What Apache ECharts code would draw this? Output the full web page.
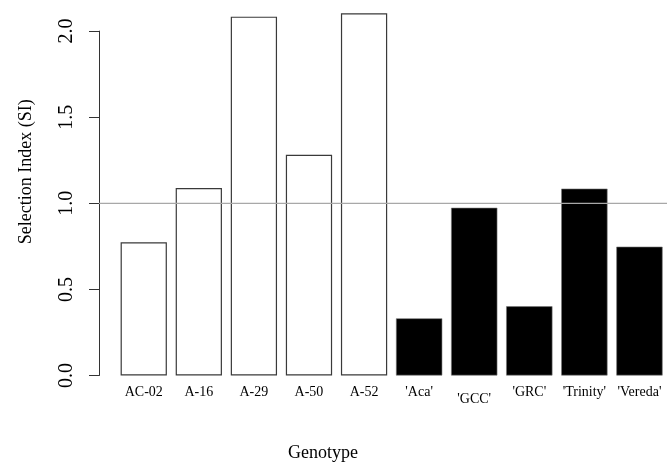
<!DOCTYPE html>
<html>
<head>
<meta charset="utf-8">
<script src="https://cdn.jsdelivr.net/npm/echarts@6/dist/echarts.min.js"></script>
<style>
html,body{margin:0;padding:0;background:#fff;}
#c{width:667px;height:464px;}
</style>
</head>
<body>
<div id="c"></div>
<script>
var categories = ["AC-02", "A-16", "A-29", "A-50", "A-52", "'Aca'", "'GCC'", "'GRC'", "'Trinity'", "'Vereda'"];
var siValues = [0.774, 1.089, 2.084, 1.282, 2.103, 0.332, 0.974, 0.402, 1.085, 0.748];
var groups = ["line", "line", "line", "line", "line", "cultivar", "cultivar", "cultivar", "cultivar", "cultivar"];
var yTicks = [0, 0.5, 1.0, 1.5, 2.0];
var refValue = 1.0;

var serif = "'Liberation Serif', 'DejaVu Serif', serif";
var chart = echarts.init(document.getElementById('c'), null, {renderer: 'canvas'});

var barData = siValues.map(function (v, i) {
  var isLine = groups[i] === 'line';
  return {
    value: v,
    itemStyle: isLine
      ? {color: '#ffffff', borderColor: '#3a3a3a', borderWidth: 1.2}
      : {color: '#000000', borderColor: '#777777', borderWidth: 0.6}
  };
});

var catData = categories.map(function (c) {
  if (c === "'GCC'") return {value: c, textStyle: {padding: [7, 0, 0, 0]}};
  return c;
});

var option = {
  animation: false,
  backgroundColor: '#ffffff',
  grid: [
    {left: 99, right: 0, top: 31.1, bottom: 88.5},
    {left: 116.2, right: -1.7, top: 31.1, bottom: 88.5}
  ],
  xAxis: [
    {gridIndex: 0, type: 'value', min: 0, max: 1, show: false},
    {
      gridIndex: 1, type: 'category', data: catData,
      boundaryGap: true,
      axisLine: {show: false}, axisTick: {show: false},
      axisLabel: {interval: 0, margin: 10, color: '#000', fontFamily: serif, fontSize: 14}
    }
  ],
  yAxis: [
    {
      gridIndex: 0, type: 'value', min: yTicks[0], max: yTicks[yTicks.length - 1], interval: 0.5,
      splitLine: {show: false},
      axisLine: {show: true, lineStyle: {color: '#333', width: 1}},
      axisTick: {show: true, length: 10, lineStyle: {color: '#333', width: 1}},
      axisLabel: {
        rotate: 90, margin: 22, color: '#000', fontFamily: serif, fontSize: 20,
        formatter: function (v) { return v.toFixed(1); }
      }
    },
    {gridIndex: 1, type: 'value', min: yTicks[0], max: yTicks[yTicks.length - 1], show: false}
  ],
  series: [
    {
      type: 'bar', xAxisIndex: 1, yAxisIndex: 1, data: barData,
      barCategoryGap: '16%', clip: false, z: 2
    },
    {
      type: 'line', xAxisIndex: 0, yAxisIndex: 0,
      data: [[0, refValue], [1, refValue]],
      symbol: 'none', lineStyle: {color: '#a8a8a8', width: 1.2}, z: 5, silent: true
    }
  ],
  graphic: [
    {
      type: 'text', x: 323, y: 453,
      style: {text: 'Genotype', fontFamily: serif, fontSize: 18, fill: '#000', textAlign: 'center', textVerticalAlign: 'middle'}
    },
    {
      type: 'text', x: 26, y: 171.7, rotation: Math.PI / 2,
      style: {text: 'Selection Index (SI)', fontFamily: serif, fontSize: 18, fill: '#000', textAlign: 'center', textVerticalAlign: 'middle'}
    }
  ]
};
chart.setOption(option);
</script>
</body>
</html>
